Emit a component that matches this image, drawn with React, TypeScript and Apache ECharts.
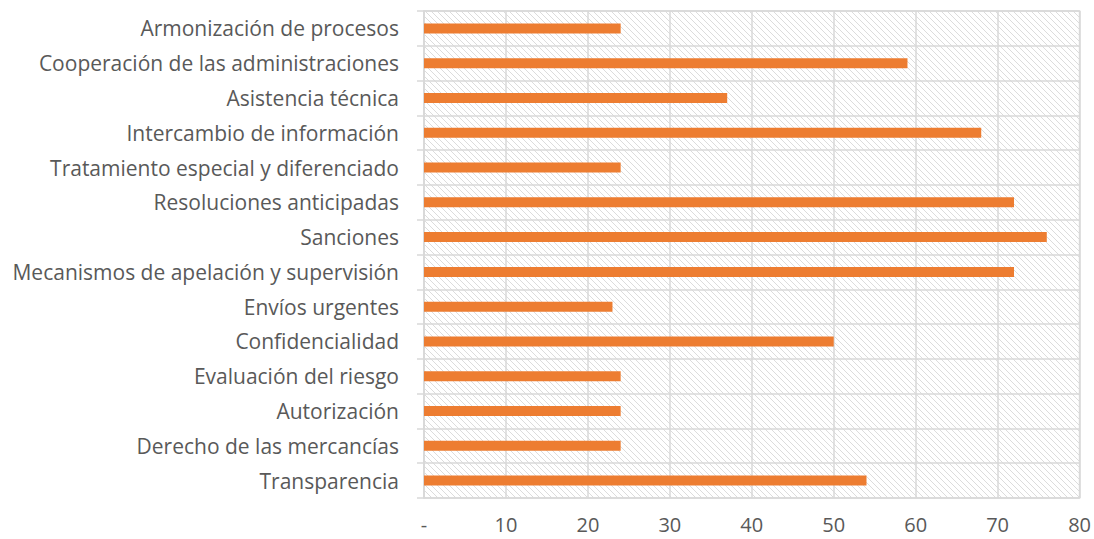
import React, { useEffect, useRef } from "react";
import * as echarts from "echarts";

const categories = [
  "Armonización de procesos",
  "Cooperación de las administraciones",
  "Asistencia técnica",
  "Intercambio de información",
  "Tratamiento especial y diferenciado",
  "Resoluciones anticipadas",
  "Sanciones",
  "Mecanismos de apelación y supervisión",
  "Envíos urgentes",
  "Confidencialidad",
  "Evaluación del riesgo",
  "Autorización",
  "Derecho de las mercancías",
  "Transparencia",
];
const values = [24, 59, 37, 68, 24, 72, 76, 72, 23, 50, 24, 24, 24, 54];
const xMin = 0;
const xMax = 80;
const xStep = 10;

const hatchSvg =
  '<svg xmlns="http://www.w3.org/2000/svg" width="6" height="6">' +
  '<path d="M0,0 L6,6 M-1,5 L1,7 M5,-1 L7,1" stroke="#dcdcdc" stroke-width="1"/></svg>';
const hatchUrl = "data:image/svg+xml;charset=utf-8," + encodeURIComponent(hatchSvg);

export default function App() {
  const ref = useRef<HTMLDivElement>(null);
  useEffect(() => {
    if (!ref.current) return;
    const chart = echarts.init(ref.current, null, { renderer: "svg" });
    const textStyle = { color: "#595959", fontFamily: "Open Sans", fontSize: 21 };
    chart.setOption({
      animation: false,
      grid: {
        left: 424,
        right: 13,
        top: 11,
        bottom: 41,
        show: true,
        borderColor: "#d9d9d9",
        borderWidth: 1.5,
        backgroundColor: { image: hatchUrl, repeat: "repeat" },
      },
      xAxis: {
        type: "value",
        min: xMin,
        max: xMax,
        interval: xStep,
        axisLine: { show: false },
        axisTick: { show: false },
        splitLine: { show: true, lineStyle: { color: "#d9d9d9", width: 1.5 } },
        axisLabel: {
          ...textStyle,
          fontSize: 20,
          margin: 16,
          formatter: (v: number) => (v === 0 ? "-" : String(v)),
        },
      },
      yAxis: {
        type: "category",
        data: categories,
        inverse: true,
        axisLine: { show: true, lineStyle: { color: "#d9d9d9", width: 1.5 } },
        axisTick: { show: true, length: 7, lineStyle: { color: "#d9d9d9", width: 1.5 } },
        splitLine: { show: true, lineStyle: { color: "#d9d9d9", width: 1.5 } },
        axisLabel: { ...textStyle, margin: 25 },
      },
      series: [
        {
          type: "bar",
          data: values,
          barWidth: 10,
          itemStyle: { color: "#ed7d31" },
        },
      ],
    });
    return () => chart.dispose();
  }, []);
  return <div ref={ref} style={{ width: 1094, height: 539, position: "absolute", left: 0, top: 0 }} />;
}
